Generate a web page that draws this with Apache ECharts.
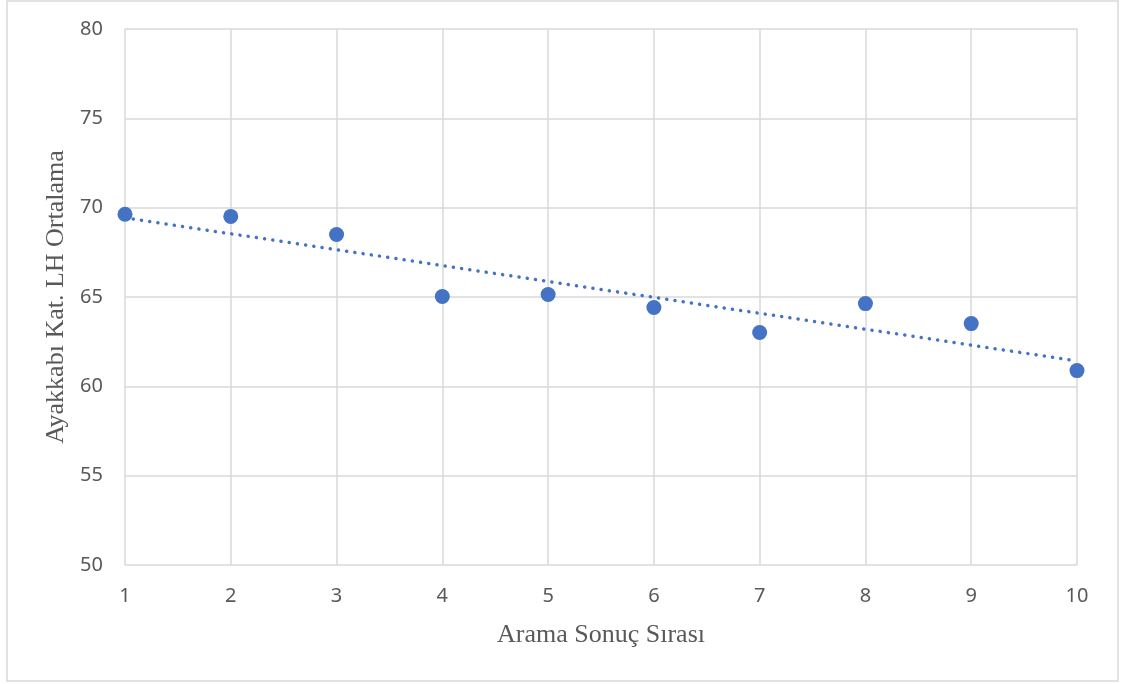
<!DOCTYPE html>
<html>
<head>
<meta charset="utf-8">
<script src="https://cdn.jsdelivr.net/npm/echarts@6/dist/echarts.min.js"></script>
<style>
  html, body { margin: 0; padding: 0; background: #fff; }
  #chart { width: 1125px; height: 684px; }
</style>
</head>
<body>
<div id="chart"></div>
<script>
// Search result rank vs. average LH score for the shoe category
const ranks = [1, 2, 3, 4, 5, 6, 7, 8, 9, 10];
const lhAverages = [69.63, 69.51, 68.5, 65.03, 65.14, 64.41, 63.01, 64.63, 63.51, 60.88];
const yTicks = [50, 55, 60, 65, 70, 75, 80];
const xTitle = 'Arama Sonuç Sırası';
const yTitle = 'Ayakkabı Kat. LH Ortalama';

// Least-squares linear trend over the points
function linearFit(xs, ys) {
  const n = xs.length;
  const mx = xs.reduce((a, b) => a + b, 0) / n;
  const my = ys.reduce((a, b) => a + b, 0) / n;
  let sxy = 0, sxx = 0;
  for (let i = 0; i < n; i++) {
    sxy += (xs[i] - mx) * (ys[i] - my);
    sxx += (xs[i] - mx) * (xs[i] - mx);
  }
  const slope = sxy / sxx;
  return x => my + slope * (x - mx);
}
const fit = linearFit(ranks, lhAverages);
const xFirst = ranks[0], xLast = ranks[ranks.length - 1];
const trend = [[xFirst, fit(xFirst)], [xLast, fit(xLast)]];

const gridColor = '#d9d9d9';
const textColor = '#595959';
const blue = '#4472c4';

const chart = echarts.init(document.getElementById('chart'));
chart.setOption({
  animation: false,
  backgroundColor: '#fff',
  graphic: [{
    type: 'rect',
    shape: { x: 7, y: 1, width: 1111, height: 680 },
    style: { fill: 'none', stroke: gridColor, lineWidth: 1.5 },
    silent: true
  }],
  grid: { left: 125, right: 48, top: 29, bottom: 119 },
  xAxis: {
    type: 'value',
    min: xFirst,
    max: xLast,
    interval: 1,
    name: xTitle,
    nameLocation: 'middle',
    nameGap: 57,
    nameTextStyle: { fontFamily: 'Liberation Serif', fontSize: 26, color: textColor },
    axisLine: { show: false },
    axisTick: { show: false },
    axisLabel: { fontFamily: 'Noto Sans', fontSize: 20, color: textColor, margin: 21 },
    splitLine: { show: true, lineStyle: { color: gridColor, width: 1.5 } }
  },
  yAxis: {
    type: 'value',
    min: yTicks[0],
    max: yTicks[yTicks.length - 1],
    interval: yTicks[1] - yTicks[0],
    name: yTitle,
    nameLocation: 'middle',
    nameGap: 55,
    nameTextStyle: { fontFamily: 'Liberation Serif', fontSize: 26, color: textColor },
    axisLine: { show: false },
    axisTick: { show: false },
    axisLabel: { fontFamily: 'Noto Sans', fontSize: 20, color: textColor, margin: 22 },
    splitLine: { show: true, lineStyle: { color: gridColor, width: 1.5 } }
  },
  series: [
    {
      type: 'line',
      data: trend,
      symbol: 'none',
      lineStyle: { color: blue, width: 3.5, type: [0.1, 8.2], cap: 'round' },
      z: 2
    },
    {
      type: 'scatter',
      data: ranks.map((r, i) => [r, lhAverages[i]]),
      symbol: 'circle',
      symbolSize: 15,
      itemStyle: { color: blue, opacity: 1 },
      z: 3
    }
  ]
});
</script>
</body>
</html>
